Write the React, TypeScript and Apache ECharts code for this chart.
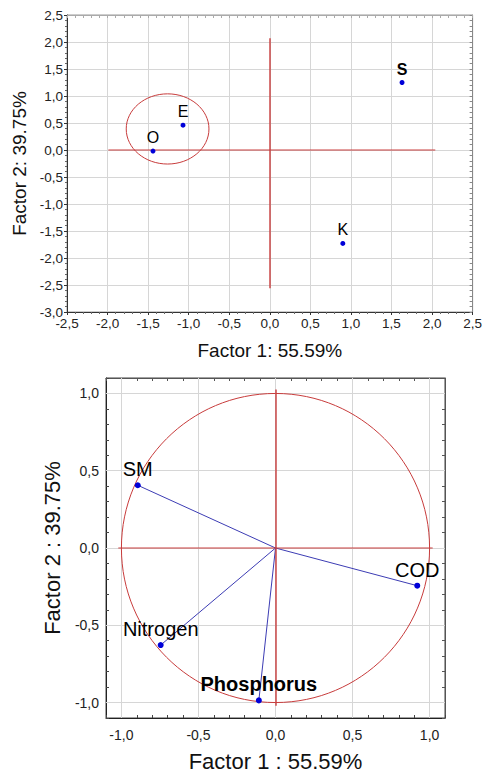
import React, { useEffect, useRef } from 'react';
import * as echarts from 'echarts';

// Score plot (top)
const scoreNames = ['S', 'E', 'O', 'K'];
const scoreX = [1.63, -1.07, -1.44, 0.9];
const scoreY = [1.25, 0.46, -0.02, -1.73];
const scoreBold = [true, false, false, false];

// Loadings plot (bottom)
const loadNames = ['SM', 'COD', 'Nitrogen', 'Phosphorus'];
const loadX = [-0.894, 0.92, -0.745, -0.108];
const loadY = [0.406, -0.244, -0.628, -0.986];
const loadBold = [false, false, false, true];

const bottomTicks = [-1, -0.5, 0, 0.5, 1];

// cluster ellipse: centre x, centre y, radius x, radius y (data units)
const clusterEllipse = [-1.26, 0.39, 0.51, 0.65];
const unitCircle = [0, 0, 1];

// cross lines: [x1, y1, x2, y2]
const topHLine = [-1.99, 0, 2.04, 0];
const topVLine = [0, 2.07, 0, -2.56];
const botHLine = [-1.02, 0, 1.02, 0];
const botVLine = [0, 1.025, 0, -1.02];

const RED = '#c83c3c';
const BLUE_DOT = '#0000d8';
const BLUE_LINE = '#3c3cb4';
const GRID = '#d6d6d6';
const FONT = 'Liberation Sans, Arial, sans-serif';

const fmt = (v: number) => v.toFixed(1).replace('.', ',');
const fmtHalf = (v: number) => (Math.abs(Math.round(v * 10)) % 5 === 0 ? fmt(v) : '');
const crisp = (p: number) => Math.round(p - 0.5) + 0.5;

export default function App() {
  const ref = useRef<HTMLDivElement>(null);
  useEffect(() => {
    document.body.style.margin = '0';
    const chart = echarts.init(ref.current!, null, { renderer: 'svg' });

    const gridLine = { show: true, lineStyle: { color: GRID, width: 1 } };
    const labelStyle = { color: '#222', fontFamily: FONT };

    const segmentSeries = (segs: number[][], xi: number, color: string, z: number, sharp: boolean) => ({
      type: 'custom',
      xAxisIndex: xi,
      yAxisIndex: xi,
      data: segs,
      silent: true,
      z,
      clip: false,
      renderItem: (params: any, api: any) => {
        const a = api.coord([api.value(0), api.value(1)]);
        const b = api.coord([api.value(2), api.value(3)]);
        const vertical = Math.abs(a[0] - b[0]) < 0.5;
        const horizontal = Math.abs(a[1] - b[1]) < 0.5;
        let x1 = a[0], x2 = b[0], y1 = a[1], y2 = b[1];
        let w = 1;
        if (sharp) {
          if (vertical) { x1 = crisp(a[0]); x2 = x1; }
          if (horizontal) { y1 = crisp(a[1]); y2 = y1; }
        } else if (vertical) {
          x1 = Math.round(a[0]); x2 = x1; w = 1.4;
        }
        return {
          type: 'line',
          shape: { x1, y1, x2, y2 },
          style: { stroke: color, lineWidth: w },
        };
      },
    });

    // grid lines of the loading plot, built from the tick values
    const botGridSegs = [
      ...bottomTicks.map((t) => [t, -1.1, t, 1.1]),
      ...bottomTicks.map((t) => [-1.1, t, 1.1, t]),
    ];

    const ellipseSeries = (d: number[], xi: number) => ({
      type: 'custom',
      xAxisIndex: xi,
      yAxisIndex: xi,
      data: [d],
      silent: true,
      z: 20,
      clip: false,
      renderItem: (params: any, api: any) => {
        const c = api.coord([api.value(0), api.value(1)]);
        const ry = d.length > 3 ? api.value(3) : api.value(2);
        const s = api.size([api.value(2), ry]);
        return {
          type: 'ellipse',
          shape: { cx: c[0], cy: c[1], rx: s[0], ry: s[1] },
          style: { fill: 'none', stroke: RED, lineWidth: 1 },
        };
      },
    });

    const vectorSeries = {
      type: 'custom',
      xAxisIndex: 2,
      yAxisIndex: 2,
      data: loadNames.map((n, i) => [loadX[i], loadY[i]]),
      silent: true,
      z: 19,
      renderItem: (params: any, api: any) => {
        const o = api.coord([0, 0]);
        const p = api.coord([api.value(0), api.value(1)]);
        return {
          type: 'line',
          shape: { x1: o[0], y1: o[1], x2: p[0], y2: p[1] },
          style: { stroke: BLUE_LINE, lineWidth: 1 },
        };
      },
    };

    const frameAxis = (gridIndex: number, min: number, max: number, interval: number, position: string, color: string) => ({
      gridIndex, type: 'value', min, max, interval, position,
      axisLine: { show: true, onZero: false, lineStyle: { color } },
      axisTick: { show: true, inside: true, length: 3, lineStyle: { color } },
      axisLabel: { show: false }, splitLine: { show: false },
    });

    const option: any = {
      animation: false,
      textStyle: { fontFamily: FONT },
      grid: [
        { left: 67, top: 15, width: 406, height: 297, show: true, borderColor: '#9a9a9a', borderWidth: 1 },
        { left: 106, top: 378, width: 339, height: 340, show: true, borderColor: '#444', borderWidth: 1 },
      ],
      xAxis: [
        {
          gridIndex: 0, type: 'value', min: -2.5, max: 2.5, interval: 0.5,
          axisLine: { show: true, onZero: false, lineStyle: { color: '#333' } },
          axisTick: { show: true, length: 3, lineStyle: { color: '#333' } },
          minorTick: { show: true, splitNumber: 5, length: 2, lineStyle: { color: '#666' } },
          axisLabel: { ...labelStyle, fontSize: 13.5, margin: 4, formatter: fmt },
          splitLine: gridLine,
          name: 'Factor 1: 55.59%', nameLocation: 'middle', nameGap: 29,
          nameTextStyle: { fontSize: 19, color: '#111', fontFamily: FONT },
        },
        frameAxis(0, -2.5, 2.5, 0.1, 'top', '#aaa'),
        {
          gridIndex: 1, type: 'value', min: -1.1, max: 1.1, interval: 0.1,
          axisLine: { show: true, onZero: false, lineStyle: { color: '#222' } },
          axisTick: { show: true, inside: true, length: 3, lineStyle: { color: '#444' } },
          axisLabel: { ...labelStyle, fontSize: 14, margin: 10, formatter: fmtHalf },
          splitLine: { show: false },
          name: 'Factor 1 : 55.59%', nameLocation: 'middle', nameGap: 32,
          nameTextStyle: { fontSize: 22, color: '#111', fontFamily: FONT },
        },
        frameAxis(1, -1.1, 1.1, 0.1, 'top', '#555'),
      ],
      yAxis: [
        {
          gridIndex: 0, type: 'value', min: -3, max: 2.5, interval: 0.5,
          axisLine: { show: true, onZero: false, lineStyle: { color: '#333' } },
          axisTick: { show: true, length: 3, lineStyle: { color: '#333' } },
          minorTick: { show: true, splitNumber: 5, length: 2, lineStyle: { color: '#666' } },
          axisLabel: { ...labelStyle, fontSize: 13.5, margin: 4, formatter: fmt },
          splitLine: gridLine,
          name: 'Factor 2: 39.75%', nameLocation: 'middle', nameGap: 38,
          nameTextStyle: { fontSize: 19, color: '#111', fontFamily: FONT },
        },
        frameAxis(0, -3, 2.5, 0.1, 'right', '#888'),
        {
          gridIndex: 1, type: 'value', min: -1.1, max: 1.1, interval: 0.1,
          axisLine: { show: true, onZero: false, lineStyle: { color: '#222' } },
          axisTick: { show: true, inside: true, length: 3, lineStyle: { color: '#444' } },
          axisLabel: { ...labelStyle, fontSize: 14, margin: 7, formatter: fmtHalf },
          splitLine: { show: false },
          name: 'Factor 2 : 39.75%', nameLocation: 'middle', nameGap: 42,
          nameTextStyle: { fontSize: 22, color: '#111', fontFamily: FONT },
        },
        frameAxis(1, -1.1, 1.1, 0.1, 'right', '#555'),
      ],
      series: [
        segmentSeries([topHLine, topVLine], 0, RED, 20, false),
        ellipseSeries(clusterEllipse, 0),
        {
          type: 'scatter',
          xAxisIndex: 0,
          yAxisIndex: 0,
          symbolSize: 5,
          itemStyle: { color: BLUE_DOT, opacity: 1 },
          z: 25,
          data: scoreNames.map((n, i) => ({
            name: n,
            value: [scoreX[i], scoreY[i]],
            label: { fontWeight: scoreBold[i] ? 'bold' : 'normal' },
          })),
          label: {
            show: true, position: 'top', distance: 3, formatter: '{b}',
            fontSize: 16, color: '#000', fontFamily: FONT,
          },
        },
        segmentSeries(botGridSegs, 2, GRID, 1, true),
        segmentSeries([botHLine, botVLine], 2, RED, 20, false),
        ellipseSeries(unitCircle, 2),
        vectorSeries,
        {
          type: 'scatter',
          xAxisIndex: 2,
          yAxisIndex: 2,
          symbolSize: 6,
          itemStyle: { color: BLUE_DOT, opacity: 1 },
          z: 25,
          data: loadNames.map((n, i) => ({
            name: n,
            value: [loadX[i], loadY[i]],
            label: { fontWeight: loadBold[i] ? 'bold' : 'normal' },
          })),
          label: {
            show: true, position: 'top', distance: 3, formatter: '{b}',
            fontSize: 20, color: '#000', fontFamily: FONT,
          },
        },
      ],
    };
    chart.setOption(option);
    return () => chart.dispose();
  }, []);
  return <div ref={ref} style={{ width: 485, height: 774, background: '#fff' }} />;
}
